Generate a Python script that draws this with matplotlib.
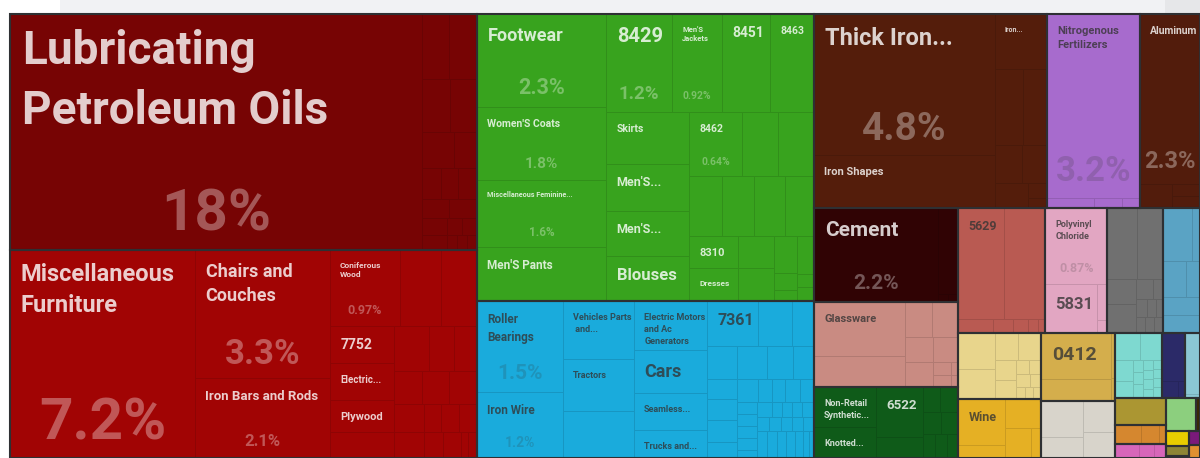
"""
Export treemap (cropped screenshot), redrawn with a small slice-and-dice layout.
Nested lists alternate split direction: even depth splits along x, odd along y.
"""

import colorsys

import matplotlib.pyplot as plt
from matplotlib.patches import Rectangle
from matplotlib.colors import to_rgb

W, H = 1200, 458
X0, Y0 = 10, 14          # where the treemap starts inside the screenshot

# ---------- Data: share of visible area (%), leaves are value or (label, value) ----------
OILS = [("Lubricating\nPetroleum Oils", 18.40),
        [[0.332, 0.344], [0.281, 0.271], [0.218, 0.157], [0.111, 0.100, 0.111],
         [0.097, 0.101], [0.080, 0.048, 0.048], [0.071, 0.028, 0.028, 0.028]]]

FURNITURE = [("Miscellaneous\nFurniture", 7.28),
             [("Chairs and\nCouches", 3.27), ("Iron Bars and Rods", 2.04)],
             [[("Coniferous\nWood", 1.007), 0.590, 0.518],
              [[("7752", 0.448), ("Electric...", 0.448), ("Plywood", 0.388), 0.315],
               [[0.298, 0.213, 0.196], [0.175, 0.169, 0.175],
                [0.159, 0.090, 0.095, 0.095], [0.148, 0.093, 0.089, 0.034, 0.044]]]]]

APPAREL = [[("Footwear", 2.27), ("Women'S Coats", 1.78),
            ("Miscellaneous Feminine...", 1.64), ("Men'S Pants", 1.32)],
           [[("8429", 1.224), ("Men'S\nJackets", 0.927), ("8451", 0.890), ("8463", 0.816)],
            [[("Skirts", 0.817), ("Men'S...", 0.738), ("Men'S...", 0.707), ("Blouses", 0.707)],
             [[("8462", 0.642), 0.436, 0.436],
              [0.375, 0.363, 0.352, 0.329],
              [[("8310", 0.297), ("Dresses", 0.306)], [0.218, 0.225],
               [0.161, 0.074, 0.048], [0.122, 0.042, 0.045]]]]]]

MACHINES = [[("Roller\nBearings", 1.481), ("Iron Wire", 1.074)],
            [("Vehicles Parts\n and...", 0.779), ("Tractors", 0.699), 0.632],
            [("Electric Motors\nand Ac\nGenerators", 0.677), ("Cars", 0.594),
             ("Seamless...", 0.511), ("Trucks and...", 0.387)],
            [[("7361", 0.434), 0.290, 0.187],
             [[0.187, 0.114, 0.119, 0.125, 0.091],
              [[0.187, 0.162, 0.131],
               [0.091, 0.061, 0.057, 0.065, 0.061],
               [[0.045, 0.045, 0.045, 0.045, 0.030],
                [[0.043, 0.028, 0.028, 0.028, 0.034],
                 [0.032, 0.032, 0.029, 0.029, 0.029],
                 [0.051, 0.051, 0.046, 0.046, 0.041, 0.031, 0.026]]]]]]]

IRON = [[("Thick Iron...", 4.830), ("Iron Shapes", 1.815)],
        [("Iron...", 0.541), [0.403, 0.345], [0.194, 0.180], [0.156, [0.054, 0.036]]]]
FERTILIZERS = [("Nitrogenous\nFertilizers", 3.238), [0.089, 0.053, 0.034]]
ALUMINUM = [("Aluminum", 1.930), [0.145, [0.064, 0.064]]]

CEMENT = [("Cement", 2.206), [0.326, [0.015, 0.015]]]
GLASS = [[("Glassware", 0.930), 0.534],
         [[0.179, 0.172], [0.132, 0.118], [0.132, [[0.044, 0.017], [0.041, 0.016]]]]]
SYNTHETICS = [[("Non-Retail\nSynthetic...", 0.469), ("Knotted...", 0.364)],
              [("6522", 0.445), 0.187],
              [[0.080, 0.085], [0.075, 0.071], [0.055, 0.055, 0.050]]]

SALMON = [[("5629", 0.966), 0.861], [0.093, 0.053, 0.040, 0.026, 0.019]]
PVC = [("Polyvinyl\nChloride", 0.892), [("5831", 0.482), [0.068, 0.025]]]
GRAY = [[0.403, 0.349],
        [[0.137, 0.159], [[0.064, 0.038], [0.037, 0.031, 0.024], [0.027, 0.027, 0.027]]]]
STEEL = [[0.291, 0.080], [0.157, 0.095], 0.126, 0.126]

LTYELLOW = [[0.252, 0.210],
            [[0.118, 0.118],
             [[0.079, 0.076], [[0.032, 0.034], [0.034, 0.027], [0.020, 0.018, 0.018]]]]]
WINE = [[("Wine", 0.409), 0.116], [0.198, [0.148, 0.057]]]
GOLD = [[("0412", 0.601), 0.287], [0.034, 0.017]]
BEIGE = [[0.286, 0.167], [0.182, 0.153]]
TURQUOISE = [[0.133, 0.112],
             [[0.072, 0.061], [0.023, 0.023, 0.025],
              [0.019, 0.017, 0.017, 0.017], [0.015, 0.015, 0.015, 0.017]]]
NAVY = [0.205, [0.051, 0.023]]
LTBLUE = [0.170, 0.011]
OLIVE = [0.266]
ORANGE = [0.097, 0.065, 0.025]
MAGENTA = [0.064, 0.042, 0.032]
LTGREEN = [0.187]
DKBROWN = [0.025]
YELLOW = [0.065]
OLIVEDK = [0.044]
YELLOWGREEN = [0.009]
PURPLE = [0.029]
ORANGE2 = [0.027]

GROUPS = {
    "oils": (OILS, "#770404"), "furniture": (FURNITURE, "#a10404"),
    "apparel": (APPAREL, "#38a31e"), "machines": (MACHINES, "#1aabdc"),
    "iron": (IRON, "#541d0b"), "fertilizers": (FERTILIZERS, "#a76bcd"),
    "aluminum": (ALUMINUM, "#521c0c"), "cement": (CEMENT, "#300304"),
    "glass": (GLASS, "#c98b82"), "synthetics": (SYNTHETICS, "#0f5b19"),
    "salmon": (SALMON, "#b95a52"), "pvc": (PVC, "#e2a6c2"),
    "gray": (GRAY, "#707070"), "steel": (STEEL, "#5aa3c4"),
    "ltyellow": (LTYELLOW, "#e8d58c"), "wine": (WINE, "#e5b024"),
    "gold": (GOLD, "#d4ae4c"), "beige": (BEIGE, "#d8d4cb"),
    "turquoise": (TURQUOISE, "#7ed9d0"), "navy": (NAVY, "#2b2a68"),
    "ltblue": (LTBLUE, "#8bc7d4"), "olive": (OLIVE, "#ab9632"),
    "orange": (ORANGE, "#d5872f"), "magenta": (MAGENTA, "#d766b9"),
    "ltgreen": (LTGREEN, "#8ccf7e"), "dkbrown": (DKBROWN, "#3b2a06"),
    "yellow": (YELLOW, "#e8cc00"), "olivedk": (OLIVEDK, "#8d8535"),
    "yellowgreen": (YELLOWGREEN, "#b8c430"), "purple": (PURPLE, "#7a1a7a"),
    "orange2": (ORANGE2, "#e09030"),
}

# top-level arrangement of the groups (a one-item list flips the split direction)
TREE = [["oils", "furniture"],
        ["apparel", "machines"],
        [[["iron"], "fertilizers", "aluminum"],
         [["cement", "glass", "synthetics"],
          [["salmon", "pvc", "gray", "steel"],
           [["ltyellow", "wine"], ["gold", "beige"],
            [["turquoise", "navy", "ltblue"],
             [["olive", "orange", "magenta"],
              [["ltgreen", "dkbrown"],
               [["yellow", "olivedk", "yellowgreen"], ["purple", "orange2"]]]]]]]]]]

# shares printed in the cells
SHARES = {
    "Lubricating\nPetroleum Oils": 18, "Miscellaneous\nFurniture": 7.2,
    "Chairs and\nCouches": 3.3, "Iron Bars and Rods": 2.1, "Coniferous\nWood": 0.97,
    "Footwear": 2.3, "8429": 1.2, "Men'S\nJackets": 0.92, "Women'S Coats": 1.8,
    "Miscellaneous Feminine...": 1.6, "8462": 0.64, "Roller\nBearings": 1.5,
    "Iron Wire": 1.2, "Thick Iron...": 4.8, "Nitrogenous\nFertilizers": 3.2,
    "Aluminum": 2.3, "Cement": 2.2, "Polyvinyl\nChloride": 0.87,
}

# ---------- Style ----------
LABEL_PT = {
    "Lubricating\nPetroleum Oils": 33, "Miscellaneous\nFurniture": 17,
    "Chairs and\nCouches": 13, "Iron Bars and Rods": 9.5, "Coniferous\nWood": 6,
    "7752": 10, "Electric...": 7, "Plywood": 8, "Footwear": 13, "Women'S Coats": 7.5,
    "Miscellaneous Feminine...": 5.2, "Men'S Pants": 8.5, "8429": 14.5,
    "Men'S\nJackets": 5.5, "8451": 10, "8463": 7.5, "Skirts": 7.5, "Men'S...": 9,
    "Blouses": 12, "8462": 7.5, "8310": 8, "Dresses": 6, "Roller\nBearings": 8.5,
    "Iron Wire": 8.5, "Vehicles Parts\n and...": 6.5, "Tractors": 6.5,
    "Electric Motors\nand Ac\nGenerators": 6.5, "Cars": 13, "Seamless...": 6.5,
    "Trucks and...": 6.5, "7361": 11.5, "Thick Iron...": 17, "Iron Shapes": 8,
    "Iron...": 5, "Nitrogenous\nFertilizers": 8, "Aluminum": 7.5, "Cement": 15,
    "Glassware": 8, "Non-Retail\nSynthetic...": 6.5, "Knotted...": 6.5, "6522": 9.5,
    "5629": 9, "Polyvinyl\nChloride": 6.5, "5831": 12, "0412": 14, "Wine": 9,
}
PCT_PT = {
    "Lubricating\nPetroleum Oils": 42, "Miscellaneous\nFurniture": 42,
    "Chairs and\nCouches": 25, "Iron Bars and Rods": 12, "Coniferous\nWood": 9,
    "Footwear": 15.5, "8429": 13.5, "Men'S\nJackets": 7.5, "Women'S Coats": 11,
    "Miscellaneous Feminine...": 8.5, "8462": 7.5, "Roller\nBearings": 15,
    "Iron Wire": 10, "Thick Iron...": 28, "Nitrogenous\nFertilizers": 25,
    "Aluminum": 17, "Cement": 15, "Polyvinyl\nChloride": 9,
}
FONT = "Roboto"
GROUP_EDGE = "#2e3033"


def mix(c1, c2, t):
    a, b = to_rgb(c1), to_rgb(c2)
    return tuple(a[i] * (1 - t) + b[i] * t for i in range(3))


def is_dark(color):
    _, light, _ = colorsys.rgb_to_hls(*to_rgb(color))
    return light < 0.45


def node_value(node):
    if isinstance(node, str):
        return node_value(GROUPS[node][0])
    if isinstance(node, list):
        return sum(node_value(c) for c in node)
    if isinstance(node, tuple):
        return node[1]
    return node


def layout(node, x, y, w, h, depth, color, leaves, groups):
    if isinstance(node, str):
        data, gcolor = GROUPS[node]
        groups.append((x, y, w, h))
        layout(data, x, y, w, h, depth, gcolor, leaves, groups)
        return
    if isinstance(node, list):
        total = node_value(node)
        pos = 0.0
        for child in node:
            frac = node_value(child) / total
            if depth % 2 == 0:
                layout(child, x + pos * w, y, frac * w, h, depth + 1, color, leaves, groups)
            else:
                layout(child, x, y + pos * h, w, frac * h, depth + 1, color, leaves, groups)
            pos += frac
        return
    label = node[0] if isinstance(node, tuple) else None
    leaves.append((x, y, w, h, color, label))


leaves, groups = [], []
layout(TREE, X0, Y0, W - X0, H - Y0, 0, None, leaves, groups)

fig = plt.figure(figsize=(W / 100, H / 100), dpi=100)
ax = fig.add_axes([0, 0, 1, 1])
ax.set_xlim(0, W)
ax.set_ylim(H, 0)
ax.axis("off")

# page chrome above the chart
ax.add_patch(Rectangle((60, 0), 1105, Y0, facecolor="#f1f2f4", edgecolor="none"))
ax.add_patch(Rectangle((1165, 0), 35, Y0, facecolor="#e6e7e9", edgecolor="none"))

for x, y, w, h, color, label in leaves:
    ax.add_patch(Rectangle((x, y), w, h, facecolor=color,
                           edgecolor=mix(color, "black", 0.12), linewidth=0.7))

for x, y, w, h in groups:
    ax.add_patch(Rectangle((x, y), w, h, facecolor="none",
                           edgecolor=GROUP_EDGE, linewidth=1.5))

for x, y, w, h, color, label in leaves:
    if label is None:
        continue
    if is_dark(color):
        text_c, pct_c = mix(color, "white", 0.8), mix(color, "white", 0.33)
    else:
        text_c, pct_c = mix(color, "#333333", 0.78), mix(color, "#333333", 0.2)
    fs = LABEL_PT[label]
    ax.text(x + 9.5 + 0.08 * fs, y + 11 + 0.12 * fs, label, fontsize=fs,
            fontfamily=FONT, fontweight="bold", color=text_c,
            ha="left", va="top", linespacing=1.45, clip_on=True)
    if label in SHARES:
        ax.text(x + w / 2, y + h - (8 + 0.05 * h), f"{SHARES[label]:g}%",
                fontsize=PCT_PT[label], fontfamily=FONT, fontweight="bold",
                color=pct_c, ha="center", va="baseline", clip_on=True)

fig.savefig("out.png", dpi=100, facecolor="white")
